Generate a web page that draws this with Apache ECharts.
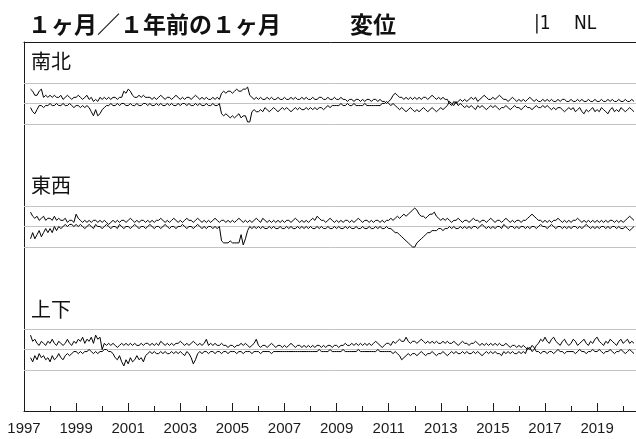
<!DOCTYPE html>
<html><head><meta charset="utf-8">
<script src="https://cdn.jsdelivr.net/npm/echarts@6/dist/echarts.min.js"></script>
<style>html,body{margin:0;padding:0;background:#fff}#c{width:636px;height:439px}</style>
</head><body><div id="c"></div>
<script>
// ---- text ----
const TITLE_MAIN = '１ヶ月／１年前の１ヶ月';
const TITLE_TAIL = '変位';
const TAG_LEFT = '|1';
const TAG_RIGHT = 'NL';
const PANEL_NAMES = ['南北', '東西', '上下'];

// ---- time axis ----
const AXIS_START_YEAR = 1997;   // tick labels: 1997, 1999, ... 2019
const AXIS_SPAN_YEARS = 24;
const LABEL_STEP_YEARS = 2;
const FIRST_SAMPLE_MONTH = 4;   // monthly samples from April 1997

// ---- reference levels (tenths) ----
const GUIDE_LEVELS = [10, 0, -10];

// ---- monthly values (tenths), one row per year (1997: Apr-Dec, 2020: Jan-Jun) ----
const NS_UP = [
 7,6,4,4,6,7,3,4,3,
 4,3,4,3,3,4,2,3,4,3,2,3,
 3,4,3,2,3,4,2,3,1,2,1,3,
 2,3,2,3,2,3,3,2,3,3,6,5,
 7,6,4,3,3,4,3,4,3,3,3,2,
 3,2,3,4,3,2,3,3,2,3,4,3,
 2,3,2,3,3,2,3,4,3,2,3,2,
 3,2,2,3,2,3,2,5,6,5,6,6,
 5,6,7,6,6,7,7,8,4,3,2,3,
 2,3,2,2,3,2,3,2,2,3,2,2,
 3,2,2,3,2,3,2,2,3,2,3,2,
 2,3,2,2,3,3,2,2,3,2,2,3,
 2,2,3,2,2,1,2,2,1,2,2,1,
 2,1,2,2,1,2,2,1,2,1,1,0,
 1,2,4,5,4,3,3,2,3,2,3,2,
 3,2,3,2,3,3,2,3,4,3,2,3,
 2,3,2,2,0,-1,1,0,1,2,1,2,
 1,2,3,2,3,1,2,3,4,3,2,2,
 3,2,3,4,3,2,2,1,2,3,2,1,
 2,1,2,1,2,3,2,1,2,1,1,2,
 1,2,1,2,1,1,2,1,2,2,1,1,
 2,1,1,2,1,2,1,1,2,1,1,2,
 1,1,2,1,1,2,1,2,1,1,2,1,
 1,2,1,1,2,1
];
const NS_DN = [
 -2,-4,-5,-3,-1,-1,-2,-1,-1,
 0,-1,-1,0,-1,-1,0,-1,-1,0,-1,-2,
 -1,-1,-2,-1,-2,-1,-2,-4,-6,-3,-6,-5,
 -3,-2,-1,-1,0,-1,-1,0,-1,0,0,-1,
 -1,0,-1,-1,0,-1,-1,0,0,-1,0,-1,
 -1,0,-1,0,-1,-1,0,-1,0,-1,-1,0,
 -1,0,0,-1,0,-1,-1,0,-1,0,-1,-1,
 0,-1,-1,0,-1,-1,0,-5,-6,-5,-6,-7,
 -6,-7,-6,-5,-7,-6,-6,-9,-9,-4,-3,-4,
 -4,-3,-4,-2,-3,-4,-3,-2,-3,-4,-3,-2,
 -3,-2,-3,-4,-3,-2,-3,-2,-3,-3,-2,-3,
 -2,-3,-2,-3,-2,-2,-3,-2,-1,-2,-1,-1,
 -1,-1,0,-1,-1,0,-1,-1,0,-1,-1,-1,
 -1,0,-1,-1,-1,-1,-1,-1,-1,0,0,1,
 0,-1,0,-1,-2,-3,-2,-3,-4,-3,-2,-3,
 -4,-3,-4,-3,-2,-3,-4,-3,-2,-3,-4,-3,
 -2,-3,-2,-1,1,0,-1,1,-1,0,-1,-2,
 -1,-2,-1,-2,-3,-1,-2,-1,-2,-3,-2,-1,
 -2,-1,-2,-3,-2,-2,-1,-2,-3,-2,-1,-2,
 -2,-3,-2,-1,-2,-2,-3,-2,-1,-2,-2,-1,
 -2,-1,-2,-3,-2,-3,-2,-2,-3,-4,-3,-2,
 -3,-2,-4,-3,-2,-4,-5,-3,-4,-3,-2,-4,
 -3,-4,-2,-3,-4,-5,-3,-2,-4,-3,-4,-2,
 -3,-4,-3,-2,-3,-4
];
const EW_UP = [
 7,5,4,5,3,4,5,3,4,
 4,3,5,3,4,3,3,4,2,3,3,2,
 6,4,3,2,3,2,3,2,3,3,2,3,
 2,3,2,1,2,3,2,3,2,3,3,2,
 3,4,3,2,3,2,3,3,2,3,2,3,
 2,3,3,4,3,2,3,2,3,4,3,2,
 3,2,3,4,3,3,2,3,4,3,2,3,
 2,3,2,3,4,3,2,3,3,2,3,2,
 3,2,3,4,3,2,3,2,3,2,3,4,
 3,2,4,3,2,3,2,3,2,3,2,3,
 2,3,3,2,3,4,3,2,3,2,3,2,
 3,4,3,5,4,3,3,2,3,4,3,2,
 3,2,3,2,3,3,2,3,2,3,4,3,
 2,3,3,2,3,2,3,3,2,3,2,3,
 3,4,3,4,5,4,5,6,5,6,7,8,
 9,8,6,5,5,4,5,6,6,7,5,4,
 3,4,3,4,3,2,3,3,4,3,2,3,
 3,2,3,4,3,3,2,3,3,2,3,4,
 3,2,3,3,2,3,4,3,2,3,2,3,
 3,2,3,3,4,5,6,5,4,3,3,2,
 3,2,3,2,3,3,4,3,2,3,2,3,
 2,3,3,4,3,2,3,2,3,2,3,2,
 3,2,3,2,3,2,3,3,2,3,2,3,
 2,3,4,5,4,3
];
const EW_DN = [
 -6,-3,-6,-4,-2,-5,-3,-1,-3,
 -1,-3,0,-2,0,-1,0,1,0,1,1,0,
 1,0,1,0,-1,0,1,0,-1,1,0,0,
 -1,0,1,0,-1,0,0,-1,1,0,-1,0,
 0,-1,0,1,0,-1,0,0,-1,0,1,0,
 -1,0,0,-1,0,1,0,-1,0,0,-1,0,
 0,1,0,-1,0,0,-1,0,1,0,-1,0,
 -1,0,0,-1,0,-1,0,-7,-8,-8,-8,-7,
 -8,-8,-8,-8,-4,-9,-6,-2,0,-1,0,-1,
 0,-1,0,-1,-1,0,-1,0,-1,-1,0,-1,
 -1,0,-1,0,-1,-1,0,-1,0,-1,0,-1,
 0,-1,-1,0,-1,0,-1,-1,0,-1,-1,0,
 -1,0,-1,-1,0,-1,0,-1,-1,0,-1,-1,
 0,-1,-1,0,-1,-1,0,-1,0,-1,-1,0,
 -1,-1,-2,-3,-3,-4,-5,-6,-7,-8,-9,-10,
 -10,-8,-7,-6,-5,-4,-3,-3,-2,-2,-2,-1,
 -1,-2,-1,-1,0,-1,0,-1,-1,0,-1,0,
 -1,0,-1,0,0,-1,0,1,0,-1,0,-1,
 0,-1,0,0,-1,1,0,-1,0,0,-1,0,
 -1,0,0,-1,0,-1,0,0,-1,0,1,0,
 0,-1,0,1,0,-1,0,0,-1,0,-1,0,
 -1,0,0,-1,0,-1,0,1,0,-1,0,-1,
 0,-1,0,0,-1,0,-1,0,0,-1,0,-1,
 -1,0,-1,-2,-1,0
];
const UD_UP = [
 7,4,5,3,2,4,3,2,4,
 3,5,3,2,4,3,2,3,5,3,2,4,
 3,5,4,6,3,5,4,6,3,7,5,6,
 0,3,2,3,2,3,2,1,2,3,2,3,
 2,3,2,3,2,2,3,2,3,3,2,3,
 2,3,2,4,3,2,3,2,3,2,3,3,
 4,3,2,3,2,3,4,3,2,3,2,3,
 5,2,3,2,3,2,2,3,2,2,1,2,
 2,1,2,2,3,2,3,2,1,2,3,5,
 2,1,2,2,1,2,3,2,1,2,2,1,
 2,1,2,3,2,1,2,2,1,2,1,2,
 1,2,1,2,2,1,2,1,2,2,1,2,
 2,1,2,2,3,2,2,3,2,3,2,3,
 2,3,2,3,2,3,4,3,2,1,2,3,
 3,2,4,3,4,5,4,4,6,4,3,4,
 4,3,4,5,4,3,4,3,4,3,4,3,
 3,4,3,4,3,3,4,3,2,3,4,3,
 3,2,3,3,4,3,2,3,2,3,2,3,
 2,3,2,3,2,2,3,2,1,2,2,1,
 2,1,2,1,0,1,-1,0,2,3,5,4,
 6,4,3,5,6,4,3,2,4,5,3,2,
 3,5,4,2,3,4,5,3,2,4,3,5,
 6,4,3,2,4,3,5,4,3,2,4,5,
 3,4,5,3,4,3
];
const UD_DN = [
 -4,-6,-3,-5,-2,-4,-3,-5,-4,
 -6,-3,-5,-4,-2,-4,-5,-3,-2,-3,-2,-1,
 -1,-2,-1,-2,-1,-1,0,-1,-2,-1,-2,-1,
 -1,0,0,-1,-1,-2,-4,-5,-3,-6,-8,-5,
 -7,-4,-6,-5,-3,-5,-4,-6,-3,-2,-1,-2,
 -1,-2,-2,-1,-2,-1,-2,-2,-1,-2,-1,-2,
 -1,-2,-3,-1,-2,-4,-7,-5,-2,-1,-2,-1,
 -1,-2,-1,-1,-2,-1,-1,-2,-1,-1,-2,-1,
 -1,-1,-2,-1,-1,-2,-1,-1,-1,-2,-1,-1,
 -1,-2,-1,-1,-1,-1,-2,-1,-1,-1,-1,-1,
 -1,-1,-1,-1,-1,-1,-1,-1,-1,-1,-1,-1,
 -1,-1,-1,-1,0,-1,-1,-1,-1,0,-1,-1,
 -1,-1,-1,0,-1,-1,-1,-1,-1,-1,0,-1,
 -1,-1,-1,-1,-1,-1,-1,0,-1,-1,-1,-1,
 -1,-1,-2,-1,-2,-3,-5,-4,-3,-2,-3,-2,
 -2,-3,-2,-1,-2,-3,-2,-2,-1,-2,-3,-2,
 -2,-1,-2,-3,-2,-1,-2,-1,-2,-2,-1,-2,
 -1,-2,-2,-1,-2,-1,-2,-3,-2,-1,-2,-1,
 -2,-1,-2,-2,-3,-1,-2,-1,-2,-1,-2,-2,
 -1,-2,-1,-2,1,0,2,1,-1,-1,-2,-1,
 -1,-2,-1,-1,-2,-1,0,-1,-1,-2,-1,-1,
 -1,-1,-2,-1,0,-1,-1,-2,-1,-1,0,-1,
 -1,0,-1,-2,-1,-1,0,-1,-2,-1,-1,0,
 -1,-2,-1,0,-1,-2
];
const PANELS = [[NS_UP, NS_DN], [EW_UP, EW_DN], [UD_UP, UD_DN]];

// ---- build ----
const pairs = arr => arr.map((v, i) => [(FIRST_SAMPLE_MONTH - 1 + i) / 12, v]);
const INK = '#1a1a1a';
const GRID_TOPS = [42, 165, 288], GRID_H = 123;
const PX_PER_YEAR = 26.05;
const CJK = '"Noto Sans CJK JP"';

const grid = [], xAxis = [], yAxis = [], series = [];
PANELS.forEach((pair, k) => {
  grid.push({left: 24, width: PX_PER_YEAR * AXIS_SPAN_YEARS, top: GRID_TOPS[k], height: GRID_H,
    containLabel: false, outerBoundsMode: 'none'});
  const isTop = k === 0, isBottom = k === PANELS.length - 1;
  xAxis.push({
    type: 'value', gridIndex: k, min: 0, max: AXIS_SPAN_YEARS, interval: LABEL_STEP_YEARS,
    position: isTop ? 'top' : 'bottom',
    axisLine: {show: isTop || isBottom, onZero: false, lineStyle: {color: INK, width: 1}},
    axisTick: {show: isBottom, inside: true, length: 8, lineStyle: {color: INK, width: 1}},
    minorTick: {show: isBottom, splitNumber: 2, length: 5, lineStyle: {color: INK, width: 1}},
    axisLabel: {show: isBottom, margin: 10, color: INK, fontSize: 15,
      fontFamily: '"Liberation Sans", Arial, sans-serif', showMinLabel: true, showMaxLabel: false,
      formatter: v => String(AXIS_START_YEAR + v)},
    splitLine: {show: false}, minorSplitLine: {show: false}
  });
  yAxis.push({
    type: 'value', gridIndex: k, min: -30, max: 30,
    axisLine: {show: true, onZero: false, lineStyle: {color: INK, width: 1}},
    axisTick: {show: false}, axisLabel: {show: false}, splitLine: {show: false}
  });
  pair.forEach((arr, j) => {
    const s = {
      type: 'line', xAxisIndex: k, yAxisIndex: k, data: pairs(arr),
      symbol: 'none', showSymbol: false, silent: true, animation: false, z: 3,
      lineStyle: {color: '#000', width: 1}, emphasis: {disabled: true}
    };
    if (j === 0) {
      s.markLine = {
        z: 1, silent: true, symbol: ['none', 'none'], animation: false,
        label: {show: false},
        lineStyle: {color: '#c3c3c3', width: 1, type: 'solid'},
        data: GUIDE_LEVELS.map(v => ({yAxis: v}))
      };
    }
    series.push(s);
  });
});

const panelLabelY = [61, 185, 309];
const TITLE_FONT = 'bold 23px ' + CJK;
const TAG_FONT = '19px "Liberation Sans Narrow", "DejaVu Sans Condensed", sans-serif';
const graphic = [
  {type: 'text', x: 28, y: 24, style: {text: TITLE_MAIN, font: TITLE_FONT, fill: '#111', verticalAlign: 'middle'}},
  {type: 'text', x: 350, y: 24, style: {text: TITLE_TAIL, font: TITLE_FONT, fill: '#111', verticalAlign: 'middle'}},
  {type: 'text', x: 534, y: 24, style: {text: TAG_LEFT, font: TAG_FONT, fill: '#111', verticalAlign: 'middle'}},
  {type: 'text', x: 574, y: 24, style: {text: TAG_RIGHT, font: TAG_FONT, fill: '#111', verticalAlign: 'middle'}}
].concat(PANEL_NAMES.map((n, k) => ({
  type: 'text', x: 31, y: panelLabelY[k],
  style: {text: n, font: '20px ' + CJK, fill: '#111', verticalAlign: 'middle'}
})));

const chart = echarts.init(document.getElementById('c'), null, {renderer: 'canvas'});
chart.setOption({animation: false, backgroundColor: '#fff', grid, xAxis, yAxis, series, graphic});
</script>
</body></html>
